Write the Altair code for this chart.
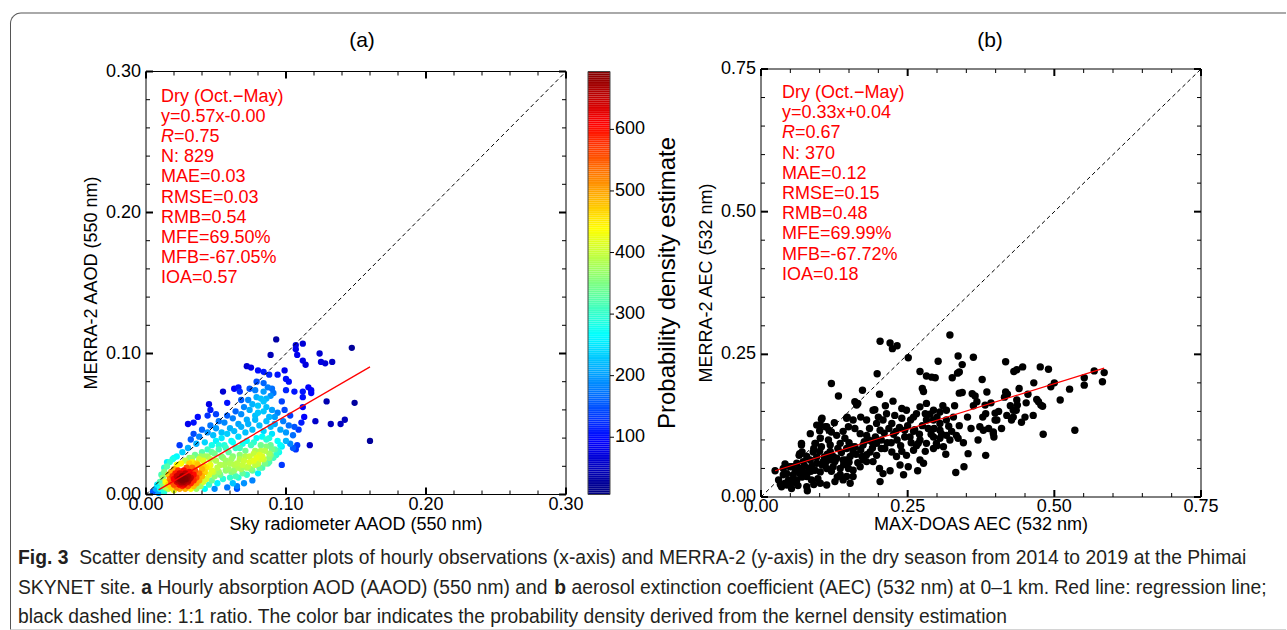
import altair as alt
import numpy as np
import pandas as pd

FONT = "Liberation Sans, Arial, Helvetica, sans-serif"

# ---------------- panel (a): sky radiometer vs MERRA-2 AAOD ----------------
a_core_x = [0.010, 0.012, 0.014, 0.014, 0.016, 0.016, 0.017, 0.018, 0.018, 0.019, 0.020, 0.020, 0.020, 0.021,
            0.022, 0.022, 0.022, 0.023, 0.024, 0.024, 0.024, 0.024, 0.025, 0.026, 0.026, 0.026, 0.027, 0.028,
            0.028, 0.028, 0.028, 0.029, 0.030, 0.030, 0.030, 0.031, 0.032, 0.032, 0.032, 0.033, 0.034, 0.034,
            0.034, 0.035, 0.036, 0.036, 0.036, 0.037, 0.038, 0.038, 0.039, 0.040, 0.040, 0.041, 0.042, 0.042,
            0.043, 0.044, 0.045, 0.045, 0.047, 0.047, 0.049, 0.049, 0.051, 0.052,
            0.025, 0.027, 0.026, 0.029, 0.023, 0.027, 0.031, 0.029, 0.025, 0.030]
a_core_y = [0.004, 0.006, 0.005, 0.009, 0.004, 0.007, 0.011, 0.005, 0.009, 0.013, 0.003, 0.007, 0.011, 0.015,
            0.005, 0.009, 0.013, 0.017, 0.004, 0.007, 0.011, 0.015, 0.009, 0.006, 0.010, 0.013, 0.017, 0.004,
            0.008, 0.011, 0.015, 0.019, 0.006, 0.010, 0.013, 0.016, 0.004, 0.008, 0.012, 0.019, 0.006, 0.010,
            0.014, 0.017, 0.004, 0.008, 0.012, 0.021, 0.010, 0.015, 0.006, 0.013, 0.018, 0.009, 0.004, 0.016,
            0.011, 0.020, 0.007, 0.014, 0.010, 0.017, 0.004, 0.013, 0.008, 0.016,
            0.011, 0.009, 0.012, 0.011, 0.010, 0.007, 0.011, 0.013, 0.008, 0.009]
a_band_x = [0.053, 0.055, 0.055, 0.057, 0.058, 0.059, 0.060, 0.060, 0.062, 0.062, 0.063, 0.064, 0.065, 0.065,
            0.066, 0.067, 0.068, 0.069, 0.070, 0.070, 0.071, 0.072, 0.073, 0.074, 0.075, 0.076, 0.076, 0.077,
            0.078, 0.079, 0.080, 0.080, 0.081, 0.082, 0.083, 0.084, 0.085, 0.086, 0.087, 0.088, 0.089, 0.090,
            0.091, 0.092, 0.094, 0.095,
            0.020, 0.018, 0.016, 0.022, 0.025, 0.028, 0.031, 0.033, 0.035, 0.038, 0.040, 0.042, 0.044, 0.046,
            0.047, 0.049, 0.050, 0.052, 0.054, 0.056, 0.058, 0.061, 0.063, 0.066, 0.068, 0.071, 0.073, 0.076,
            0.078, 0.081, 0.084, 0.086, 0.089, 0.092,
            0.005, 0.007, 0.008, 0.010, 0.012, 0.013, 0.009,
            0.041, 0.043, 0.046, 0.048, 0.050, 0.051, 0.053, 0.054, 0.056, 0.057, 0.059, 0.061, 0.061, 0.063,
            0.064, 0.066, 0.067, 0.069, 0.069, 0.071, 0.072, 0.074, 0.075, 0.077, 0.078, 0.079, 0.081, 0.082,
            0.083, 0.085, 0.086, 0.088, 0.090, 0.093, 0.096, 0.044, 0.047, 0.052, 0.057, 0.062, 0.067, 0.072,
            0.077, 0.083, 0.088, 0.036, 0.039, 0.041, 0.033, 0.031]
a_band_y = [0.021, 0.011, 0.026, 0.017, 0.005, 0.030, 0.012, 0.022, 0.008, 0.027, 0.017, 0.033, 0.004, 0.022,
            0.012, 0.028, 0.018, 0.036, 0.008, 0.024, 0.031, 0.014, 0.020, 0.027, 0.035, 0.010, 0.017, 0.024,
            0.031, 0.040, 0.015, 0.022, 0.028, 0.035, 0.019, 0.025, 0.031, 0.039, 0.022, 0.029, 0.035, 0.043,
            0.026, 0.032, 0.038, 0.030,
            0.018, 0.016, 0.014, 0.021, 0.022, 0.024, 0.026, 0.023, 0.028, 0.025, 0.030, 0.027, 0.032, 0.025,
            0.035, 0.029, 0.038, 0.032, 0.040, 0.035, 0.043, 0.038, 0.045, 0.041, 0.048, 0.044, 0.050, 0.046,
            0.053, 0.049, 0.045, 0.052, 0.048, 0.055,
            0.002, 0.004, 0.007, 0.009, 0.012, 0.002, 0.001,
            0.024, 0.019, 0.021, 0.016, 0.024, 0.019, 0.014, 0.027, 0.021, 0.024, 0.018, 0.016, 0.025, 0.021,
            0.013, 0.019, 0.025, 0.021, 0.015, 0.027, 0.019, 0.023, 0.018, 0.029, 0.021, 0.026, 0.019, 0.031,
            0.027, 0.022, 0.034, 0.026, 0.032, 0.028, 0.035, 0.027, 0.030, 0.035, 0.033, 0.037, 0.033, 0.038,
            0.037, 0.041, 0.040, 0.022, 0.027, 0.020, 0.026, 0.022]
a_halo_x = [0.030, 0.032, 0.034, 0.036, 0.038, 0.040, 0.042, 0.044, 0.046, 0.048, 0.050, 0.052, 0.054, 0.056,
            0.058, 0.060, 0.062, 0.064, 0.066, 0.068, 0.070, 0.072, 0.074, 0.076, 0.078, 0.080, 0.082, 0.084,
            0.086, 0.088, 0.090, 0.092, 0.094, 0.096, 0.098, 0.100, 0.102, 0.026, 0.024, 0.022, 0.019, 0.015,
            0.013, 0.011]
a_halo_y = [0.033, 0.039, 0.043, 0.036, 0.041, 0.046, 0.037, 0.044, 0.049, 0.042, 0.047, 0.052, 0.044, 0.051,
            0.056, 0.047, 0.054, 0.059, 0.050, 0.057, 0.062, 0.053, 0.060, 0.064, 0.056, 0.058, 0.068, 0.059,
            0.062, 0.055, 0.060, 0.050, 0.058, 0.046, 0.052, 0.044, 0.049, 0.030, 0.035, 0.027, 0.025, 0.020,
            0.016, 0.014]
a_sparse_x = [0.093, 0.107, 0.112, 0.107, 0.108, 0.089, 0.124, 0.147, 0.112, 0.114, 0.125, 0.128, 0.133, 0.072,
              0.075, 0.080, 0.084, 0.099, 0.088, 0.094, 0.100, 0.102, 0.079, 0.084, 0.087, 0.066, 0.063, 0.067,
              0.055, 0.074, 0.078, 0.084, 0.090, 0.091, 0.089, 0.100, 0.106, 0.112, 0.116, 0.118, 0.118, 0.112,
              0.068, 0.073, 0.079, 0.086, 0.084, 0.097, 0.045, 0.046, 0.044, 0.050, 0.058, 0.129, 0.149, 0.037,
              0.030, 0.034, 0.121, 0.132, 0.139, 0.142, 0.160, 0.117, 0.097, 0.065, 0.112, 0.113, 0.111, 0.109,
              0.106, 0.105, 0.103, 0.099, 0.100, 0.103, 0.108, 0.105, 0.107, 0.097, 0.094, 0.089, 0.088, 0.082,
              0.080, 0.080, 0.020, 0.015, 0.013, 0.017]
a_sparse_y = [0.110, 0.106, 0.107, 0.103, 0.099, 0.099, 0.100, 0.104, 0.095, 0.092, 0.094, 0.093, 0.094, 0.091,
              0.090, 0.088, 0.087, 0.088, 0.085, 0.085, 0.082, 0.080, 0.080, 0.079, 0.076, 0.076, 0.075, 0.073,
              0.073, 0.075, 0.074, 0.073, 0.075, 0.072, 0.070, 0.074, 0.073, 0.073, 0.076, 0.074, 0.072, 0.069,
              0.067, 0.067, 0.069, 0.068, 0.066, 0.066, 0.064, 0.060, 0.056, 0.057, 0.065, 0.066, 0.065, 0.055,
              0.050, 0.051, 0.052, 0.050, 0.050, 0.053, 0.038, 0.035, 0.021, 0.006, 0.062, 0.055, 0.051, 0.046,
              0.048, 0.042, 0.056, 0.060, 0.038, 0.036, 0.035, 0.033, 0.032, 0.034, 0.031, 0.028, 0.023, 0.025,
              0.022, 0.063, 0.026, 0.023, 0.019, 0.023]
a_fit_x = [0.009, 0.160]
a_fit_y = [0.0033, 0.0905]
a_stats = ["Dry (Oct.\u2212May)", "y=0.57x-0.00", None, "N: 829", "MAE=0.03", "RMSE=0.03", "RMB=0.54",
           "MFE=69.50%", "MFB=-67.05%", "IOA=0.57"]
a_r = "=0.75"

# ---------------- panel (b): MAX-DOAS vs MERRA-2 AEC ----------------
b_x = [0.203, 0.220, 0.224, 0.232, 0.322, 0.251, 0.336, 0.362, 0.343, 0.302, 0.417, 0.431, 0.436, 0.271,
       0.282, 0.297, 0.291, 0.326, 0.335, 0.338, 0.198, 0.120, 0.377, 0.173, 0.132, 0.202, 0.275, 0.277,
       0.338, 0.343, 0.360, 0.365, 0.368, 0.385, 0.417, 0.420, 0.430, 0.430, 0.437, 0.225, 0.240, 0.194,
       0.191, 0.163, 0.160, 0.146, 0.149, 0.157, 0.180, 0.197, 0.208, 0.214, 0.228, 0.240, 0.223, 0.203,
       0.248, 0.260, 0.265, 0.271, 0.282, 0.280, 0.294, 0.305, 0.316, 0.282, 0.294, 0.305, 0.316, 0.328,
       0.305, 0.294, 0.305, 0.316, 0.299, 0.311, 0.294, 0.282, 0.271, 0.254, 0.245, 0.333, 0.336, 0.353,
       0.383, 0.346, 0.332, 0.379, 0.373, 0.396, 0.397, 0.399, 0.419, 0.427, 0.268, 0.260, 0.248, 0.271,
       0.277, 0.267, 0.251, 0.237, 0.231, 0.223, 0.211, 0.202, 0.208, 0.220, 0.203, 0.243, 0.169, 0.180,
       0.189, 0.174, 0.160, 0.186, 0.197, 0.172, 0.180, 0.191, 0.197, 0.103, 0.112, 0.120, 0.101, 0.129,
       0.135, 0.118, 0.103, 0.092, 0.089, 0.078, 0.066, 0.069, 0.084, 0.095, 0.143, 0.146, 0.157, 0.152,
       0.140, 0.129, 0.118, 0.106, 0.095, 0.084, 0.072, 0.061, 0.049, 0.038, 0.044, 0.055, 0.066, 0.078,
       0.092, 0.101, 0.112, 0.123, 0.135, 0.149, 0.157, 0.169, 0.078, 0.061, 0.044, 0.035, 0.078, 0.101,
       0.112, 0.126, 0.135, 0.146, 0.157, 0.152, 0.079, 0.052, 0.041, 0.038, 0.024, 0.041, 0.065, 0.476,
       0.490, 0.446, 0.494, 0.526, 0.551, 0.551, 0.568, 0.585, 0.582, 0.535, 0.481, 0.470, 0.473, 0.477,
       0.480, 0.464, 0.444, 0.452, 0.436, 0.435, 0.399, 0.402, 0.396, 0.383, 0.382, 0.165, 0.147, 0.104,
       0.110, 0.101, 0.100, 0.116, 0.069, 0.070, 0.093, 0.090, 0.053, 0.059,
       0.030, 0.033, 0.047, 0.050, 0.056, 0.063, 0.067, 0.071, 0.074, 0.082, 0.087, 0.086, 0.090, 0.097,
       0.104, 0.108, 0.113, 0.118, 0.123, 0.126, 0.131, 0.137, 0.141, 0.145, 0.150, 0.155, 0.162, 0.165,
       0.170, 0.176, 0.180, 0.184, 0.190, 0.195, 0.205, 0.210, 0.215, 0.218, 0.226, 0.232, 0.236, 0.238,
       0.250, 0.256, 0.262, 0.270, 0.285, 0.290, 0.300, 0.310, 0.320, 0.325,
       0.115, 0.125, 0.140, 0.150, 0.160, 0.170, 0.175, 0.185, 0.200, 0.205, 0.212, 0.222, 0.230, 0.240,
       0.245, 0.255, 0.260, 0.265, 0.275, 0.280, 0.288, 0.295, 0.300, 0.308, 0.315, 0.322, 0.330, 0.338,
       0.345, 0.352, 0.358, 0.362, 0.370, 0.378, 0.388, 0.392, 0.405, 0.410, 0.415, 0.425, 0.440, 0.450,
       0.455, 0.465, 0.500, 0.510, 0.060, 0.070, 0.085, 0.095, 0.100, 0.110, 0.120, 0.130, 0.140]
b_y = [0.273, 0.270, 0.260, 0.265, 0.284, 0.244, 0.247, 0.245, 0.232, 0.238, 0.237, 0.220, 0.223, 0.220,
       0.212, 0.209, 0.210, 0.209, 0.217, 0.219, 0.216, 0.199, 0.206, 0.187, 0.177, 0.180, 0.190, 0.185,
       0.182, 0.183, 0.181, 0.177, 0.167, 0.184, 0.184, 0.180, 0.152, 0.140, 0.161, 0.168, 0.155, 0.153,
       0.152, 0.161, 0.167, 0.138, 0.123, 0.135, 0.135, 0.129, 0.135, 0.146, 0.143, 0.138, 0.129, 0.117,
       0.152, 0.140, 0.146, 0.158, 0.164, 0.146, 0.152, 0.149, 0.152, 0.135, 0.135, 0.129, 0.135, 0.140,
       0.117, 0.105, 0.103, 0.108, 0.094, 0.088, 0.085, 0.094, 0.100, 0.105, 0.117, 0.108, 0.103, 0.076,
       0.073, 0.053, 0.043, 0.117, 0.123, 0.114, 0.105, 0.135, 0.143, 0.135, 0.094, 0.082, 0.073, 0.065,
       0.059, 0.046, 0.053, 0.056, 0.071, 0.079, 0.085, 0.050, 0.041, 0.046, 0.027, 0.039, 0.111, 0.108,
       0.097, 0.091, 0.088, 0.079, 0.073, 0.071, 0.062, 0.062, 0.094, 0.136, 0.123, 0.114, 0.103, 0.108,
       0.094, 0.091, 0.088, 0.094, 0.079, 0.071, 0.076, 0.094, 0.111, 0.126, 0.103, 0.085, 0.079, 0.071,
       0.065, 0.068, 0.065, 0.062, 0.059, 0.065, 0.062, 0.059, 0.053, 0.050, 0.041, 0.039, 0.041, 0.041,
       0.047, 0.044, 0.050, 0.053, 0.050, 0.050, 0.047, 0.053, 0.036, 0.030, 0.021, 0.018, 0.018, 0.024,
       0.021, 0.027, 0.039, 0.036, 0.036, 0.024, 0.011, 0.015, 0.024, 0.039, 0.046, 0.058, 0.073, 0.228,
       0.224, 0.228, 0.193, 0.189, 0.196, 0.209, 0.221, 0.218, 0.202, 0.117, 0.110, 0.171, 0.167, 0.161,
       0.159, 0.143, 0.131, 0.165, 0.170, 0.152, 0.147, 0.135, 0.111, 0.146, 0.161, 0.164, 0.140, 0.138,
       0.123, 0.126, 0.116, 0.117, 0.091, 0.079, 0.094, 0.085, 0.053, 0.047,
       0.030, 0.022, 0.030, 0.022, 0.028, 0.020, 0.050, 0.045, 0.055, 0.050, 0.055, 0.030, 0.022, 0.032,
       0.056, 0.070, 0.075, 0.080, 0.071, 0.062, 0.085, 0.078, 0.057, 0.065, 0.061, 0.088, 0.075, 0.060,
       0.083, 0.097, 0.074, 0.100, 0.086, 0.105, 0.100, 0.112, 0.095, 0.120, 0.110, 0.100, 0.122, 0.090,
       0.125, 0.095, 0.118, 0.110, 0.120, 0.110, 0.140, 0.160, 0.124, 0.115,
       0.100, 0.130, 0.115, 0.095, 0.120, 0.140, 0.065, 0.120, 0.140, 0.085, 0.160, 0.095, 0.115, 0.080,
       0.105, 0.135, 0.115, 0.090, 0.125, 0.080, 0.145, 0.120, 0.090, 0.110, 0.075, 0.100, 0.160, 0.125,
       0.095, 0.140, 0.120, 0.160, 0.100, 0.140, 0.120, 0.165, 0.150, 0.120, 0.175, 0.160, 0.190, 0.140,
       0.180, 0.200, 0.200, 0.170, 0.025, 0.035, 0.045, 0.070, 0.080, 0.060, 0.045, 0.035, 0.030]
b_fit_x = [0.024, 0.585]
b_fit_y = [0.046, 0.226]
b_stats = ["Dry (Oct.\u2212May)", "y=0.33x+0.04", None, "N: 370", "MAE=0.12", "RMSE=0.15", "RMB=0.48",
           "MFE=69.99%", "MFB=-67.72%", "IOA=0.18"]
b_r = "=0.67"

# axis ticks and labels
a_major = [0.0, 0.1, 0.2, 0.3]
a_labels = ["0.00", "0.10", "0.20", "0.30"]
a_minor = [0.02, 0.04, 0.06, 0.08, 0.12, 0.14, 0.16, 0.18, 0.22, 0.24, 0.26, 0.28]
b_major = [0.0, 0.25, 0.5, 0.75]
b_labels = ["0.00", "0.25", "0.50", "0.75"]
b_minor = [0.05, 0.10, 0.15, 0.20, 0.30, 0.35, 0.40, 0.45, 0.55, 0.60, 0.65, 0.70]
cb_ticks = [100, 200, 300, 400, 500, 600]
cb_min, cb_max = 7, 694
JET = ["#000080", "#0000ff", "#0080ff", "#00ffff", "#80ff80", "#ffff00", "#ff8000", "#ff0000", "#800000"]

caption1 = "Scatter density and scatter plots of hourly observations (x-axis) and MERRA-2 (y-axis) in the dry season from 2014 to 2019 at the Phimai"
caption2a = "SKYNET site."
caption2b = "Hourly absorption AOD (AAOD) (550 nm) and"
caption2c = "aerosol extinction coefficient (AEC) (532 nm) at 0\u20131 km. Red line: regression line;"
caption3 = "black dashed line: 1:1 ratio. The color bar indicates the probability density derived from the kernel density estimation"

# ---------------- build ----------------
WA, HA = 420, 423
WC = 151          # colour-bar column (bar itself is 22 px wide)
BARW = 22
WB, HB = 440, 428

ax = np.array(a_core_x + a_band_x + a_halo_x + a_sparse_x)
ay = np.array(a_core_y + a_band_y + a_halo_y + a_sparse_y)
h = 0.0072
k = np.exp(-((ax[:, None] - ax[None, :]) ** 2 + (ay[:, None] - ay[None, :]) ** 2) / (2 * h * h)).sum(1)
dens = k / k.max() * (cb_max - 8) + 8
dfa = pd.DataFrame({"x": ax, "y": ay, "dens": dens}).sort_values("dens")

stops = list(np.linspace(cb_min, cb_max, len(JET)))
cscale = alt.Scale(domain=stops, range=JET, interpolate="rgb", clamp=True)

one = pd.DataFrame({"k": [0]})


def txt(text, x, y, size=18, color="black", weight="normal", style="normal",
        align="left", baseline="alphabetic", angle=0):
    kw = dict(fontSize=size, color=color, font=FONT, fontWeight=weight, fontStyle=style,
              align=align, baseline=baseline)
    if angle:
        kw["angle"] = angle
    return alt.Chart(one).mark_text(**kw).encode(x=alt.value(x), y=alt.value(y), text=alt.value(text))


def ticks(xs, ys, xmaj, xmin, ymaj, ymin, W, H):
    out = []
    for vals, sw, L in ((xmaj, 2, 7), (xmin, 1, 4)):
        base = alt.Chart(pd.DataFrame({"v": vals})).mark_rule(color="black", strokeWidth=sw)
        out.append(base.encode(x=alt.X("v:Q", scale=xs, axis=None), y=alt.value(H), y2=alt.value(H - L)))
        out.append(base.encode(x=alt.X("v:Q", scale=xs, axis=None), y=alt.value(0), y2=alt.value(L)))
    for vals, sw, L in ((ymaj, 2, 7), (ymin, 1, 4)):
        base = alt.Chart(pd.DataFrame({"v": vals})).mark_rule(color="black", strokeWidth=sw)
        out.append(base.encode(y=alt.Y("v:Q", scale=ys, axis=None), x=alt.value(0), x2=alt.value(L)))
        out.append(base.encode(y=alt.Y("v:Q", scale=ys, axis=None), x=alt.value(W), x2=alt.value(W - L)))
    return out


def tick_labels(xs, ys, vals, labels, H):
    d = pd.DataFrame({"v": vals, "t": labels})
    lx = alt.Chart(d).mark_text(align="center", baseline="top", fontSize=18, font=FONT, color="black").encode(
        x=alt.X("v:Q", scale=xs, axis=None), y=alt.value(H + 1), text="t:N")
    ly = alt.Chart(d).mark_text(align="right", baseline="middle", fontSize=18, font=FONT, color="black").encode(
        y=alt.Y("v:Q", scale=ys, axis=None), x=alt.value(-5), text="t:N")
    return [lx, ly]


def box(W, H, color="black"):
    return alt.Chart(one).mark_rect(filled=False, color=color, strokeWidth=1).encode(
        x=alt.value(0), x2=alt.value(W), y=alt.value(0), y2=alt.value(H))


def stats_layers(lines, rval, x0, y0, lh=20.2):
    out = []
    for i, s in enumerate(lines):
        if s is None:
            out.append(txt("R", x0, y0 + i * lh, color="red", style="italic"))
            out.append(txt(rval, x0 + 13, y0 + i * lh, color="red"))
        else:
            out.append(txt(s, x0, y0 + i * lh, color="red"))
    return out


# panel (a)
xs_a = alt.Scale(domain=[0, 0.3], nice=False, zero=False)
ys_a = alt.Scale(domain=[0, 0.3], nice=False, zero=False)

frame = [
    alt.Chart(one).mark_rect(color="#555555", cornerRadiusTopLeft=11).encode(
        x=alt.value(-136), x2=alt.value(1140), y=alt.value(-59), y2=alt.value(558)),
    alt.Chart(one).mark_rect(color="white", cornerRadiusTopLeft=10).encode(
        x=alt.value(-135), x2=alt.value(1140), y=alt.value(-58), y2=alt.value(558)),
]

pts_a = alt.Chart(dfa).mark_circle(size=40, opacity=1).encode(
    x=alt.X("x:Q", scale=xs_a, axis=None),
    y=alt.Y("y:Q", scale=ys_a, axis=None),
    color=alt.Color("dens:Q", scale=cscale, legend=None),
    order=alt.Order("dens:Q", sort="ascending"),
)
one_a = alt.Chart(pd.DataFrame({"x": [0, 0.3], "y": [0, 0.3]})).mark_line(
    color="black", strokeWidth=1, strokeDash=[4, 3]).encode(
    x=alt.X("x:Q", scale=xs_a, axis=None), y=alt.Y("y:Q", scale=ys_a, axis=None))
fit_a = alt.Chart(pd.DataFrame({"x": a_fit_x, "y": a_fit_y})).mark_line(color="red", strokeWidth=1.3).encode(
    x=alt.X("x:Q", scale=xs_a, axis=None), y=alt.Y("y:Q", scale=ys_a, axis=None))

F = 19.3
CC = "#231f20"
X0 = -128
cap = [
    txt("Fig. 3", X0, 492, size=F, weight="bold", color=CC),
    txt(caption1, X0 + 3.168 * F, 492, size=F, color=CC),
    txt(caption2a, X0, 522, size=F, color=CC),
    txt("a", X0 + 6.391 * F, 522, size=F, weight="bold", color=CC),
    txt(caption2b, X0 + 7.225 * F, 522, size=F, color=CC),
    txt("b", X0 + 27.787 * F, 522, size=F, weight="bold", color=CC),
    txt(caption2c, X0 + 28.676 * F, 522, size=F, color=CC),
    txt(caption3, X0, 551, size=F, color=CC),
]

panel_a = alt.layer(
    *frame, pts_a, one_a, fit_a,
    *ticks(xs_a, ys_a, a_major, a_minor, a_major, a_minor, WA, HA),
    box(WA, HA),
    *tick_labels(xs_a, ys_a, a_major, a_labels, HA),
    *stats_layers(a_stats, a_r, 15, 30),
    txt("(a)", 216, -31, size=21, align="center", baseline="middle"),
    txt("Sky radiometer AAOD (550 nm)", WA / 2, 453, align="center", baseline="middle"),
    txt("MERRA-2 AAOD (550 nm)", -54, HA / 2, align="center", baseline="middle", angle=270),
    *cap,
).properties(width=WA, height=HA)

# colour bar
cb_vals = np.linspace(cb_min, cb_max, 221)
dfc = pd.DataFrame({"v": cb_vals[:-1], "v2": cb_vals[1:]})
ys_c = alt.Scale(domain=[cb_min, cb_max], nice=False, zero=False)
bar = alt.Chart(dfc).mark_rect().encode(
    x=alt.value(0), x2=alt.value(BARW),
    y=alt.Y("v:Q", scale=ys_c, axis=None), y2="v2:Q",
    color=alt.Color("v:Q", scale=cscale, legend=None),
)
dft = pd.DataFrame({"v": cb_ticks})
cb_tick = alt.Chart(dft).mark_rule(color="black", strokeWidth=1).encode(
    y=alt.Y("v:Q", scale=ys_c, axis=None), x=alt.value(BARW), x2=alt.value(BARW + 4))
cb_lab = alt.Chart(dft).mark_text(align="left", baseline="middle", fontSize=18, font=FONT, color="black").encode(
    y=alt.Y("v:Q", scale=ys_c, axis=None), x=alt.value(BARW + 5), text="v:Q")
colorbar = alt.layer(
    bar, box(BARW, HA, "#444444"), cb_tick, cb_lab,
    txt("Probability density estimate", 80, HA / 2, size=24, align="center", baseline="middle", angle=270),
).properties(width=WC, height=HA)

# panel (b)
xs_b = alt.Scale(domain=[0, 0.75], nice=False, zero=False)
ys_b = alt.Scale(domain=[0, 0.75], nice=False, zero=False)
pts_b = alt.Chart(pd.DataFrame({"x": b_x, "y": b_y})).mark_circle(size=55, opacity=1, color="black").encode(
    x=alt.X("x:Q", scale=xs_b, axis=None),
    y=alt.Y("y:Q", scale=ys_b, axis=None),
)
one_b = alt.Chart(pd.DataFrame({"x": [0, 0.75], "y": [0, 0.75]})).mark_line(
    color="black", strokeWidth=1, strokeDash=[4, 3]).encode(
    x=alt.X("x:Q", scale=xs_b, axis=None), y=alt.Y("y:Q", scale=ys_b, axis=None))
fit_b = alt.Chart(pd.DataFrame({"x": b_fit_x, "y": b_fit_y})).mark_line(color="red", strokeWidth=1.3).encode(
    x=alt.X("x:Q", scale=xs_b, axis=None), y=alt.Y("y:Q", scale=ys_b, axis=None))

panel_b = alt.layer(
    pts_b, one_b, fit_b,
    *ticks(xs_b, ys_b, b_major, b_minor, b_major, b_minor, WB, HB),
    box(WB, HB),
    *tick_labels(xs_b, ys_b, b_major, b_labels, HB),
    *stats_layers(b_stats, b_r, 21, 29),
    txt("(b)", 229, -28.5, size=21, align="center", baseline="middle"),
    txt("MAX-DOAS AEC (532 nm)", WB / 2, 455.5, align="center", baseline="middle"),
    txt("MERRA-2 AEC (532 nm)", -54, HB / 2, align="center", baseline="middle", angle=270),
).properties(width=WB, height=HB)

chart = alt.hconcat(panel_a, colorbar, panel_b, spacing=22, bounds="flush", center=True).resolve_scale(
    x="independent", y="independent").properties(
    padding={"left": 10, "top": 12, "right": 0, "bottom": 0}, background="white"
).configure_view(strokeWidth=0)

chart.save("out.html", embed_options={"renderer": "svg", "actions": False})
